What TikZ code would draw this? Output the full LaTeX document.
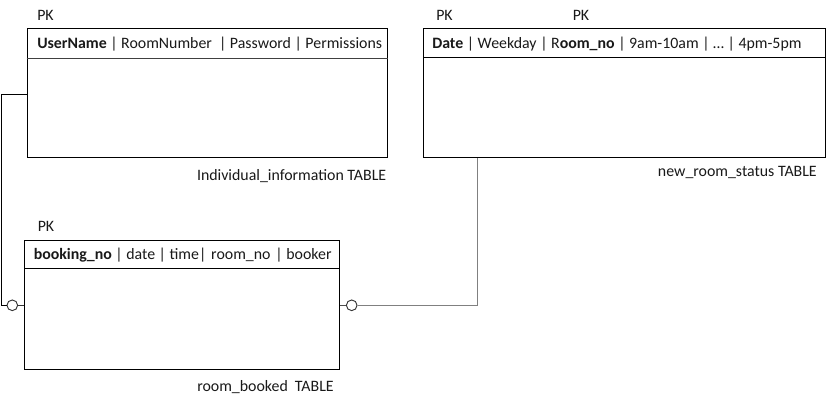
\documentclass[tikz,border=0pt]{standalone}
\usepackage{fontspec}
\setmainfont{Carlito}
\begin{document}
\begin{tikzpicture}[x=0.75pt,y=-0.75pt,
  tbl/.style={draw=black, line width=0.75pt, rectangle, inner sep=0pt, minimum height=96.75pt},
  txt/.style={inner sep=0pt, anchor=west, font=\fontsize{11.9}{14}\selectfont, text=black!90},
  lbl/.style={inner sep=0pt, anchor=east, font=\fontsize{11.9}{14}\selectfont, text=black!90},
  ring/.style={circle, draw=black!80, fill=white, line width=0.7pt, inner sep=0pt, minimum size=8pt},
  conn/.style={line width=0.75pt, draw=black},
  conng/.style={line width=1.1pt, draw=black!50}]
\useasboundingbox (0,0) rectangle (828,406);
% tables
\node (ind) [tbl, minimum width=270pt] at (207,93.5) {};
\node (nrs) [tbl, minimum width=301.5pt] at (624.5,93.5) {};
\node (rb) [tbl, minimum width=236.25pt] at (182,305) {};
% header lines
\draw[line width=0.9pt, black!75] ([yshift=-22.5pt]ind.north west) -- ([yshift=-22.5pt]ind.north east);
\draw[line width=0.75pt] ([yshift=-22.1pt]nrs.north west) -- ([yshift=-22.1pt]nrs.north east);
\draw[line width=0.75pt] ([yshift=-21.5pt]rb.north west) -- ([yshift=-21.5pt]rb.north east);
% header texts
\node (h1) [txt] at (37,44.5) {\textbf{UserName} | RoomNumber\ \ | Password | Permissions};
\node (h2) [txt] at (432,44.5) {\textbf{Date} | Weekday | R\textbf{oom\_no} | 9am-10am | … | 4pm-5pm};
\node (h3) [txt] at (33.5,255.5) {\textbf{booking\_no} | date | time|\ \hspace{1pt}room\_no\ \hspace{1pt}| booker};
% PK labels
\node (pk1) [txt] at (37,15) {PK};
\node (pk2) [txt] at (436,15) {PK};
\node (pk3) [txt] at (572.5,15) {PK};
\node (pk4) [txt] at (37.5,226) {PK};
% table names
\node (l1) [lbl] at (386.5,176) {Individual\_information\ TABLE};
\node (l2) [lbl] at (817,172) {new\_room\_status TABLE};
\node (l3) [lbl] at (334,387) {room\_booked\ \ TABLE};
% rings
\node (c1) [ring] at (12.3,305.3) {};
\node (c2) [ring] at (351.7,305.3) {};
% connectors
\draw[conn] ([yshift=-0.9pt]ind.west) -- ++(-25.5,0) |- (c1.west);
\draw[conn, draw=black!80] (c1.east) -- (c1.east -| rb.west);
\coordinate (n2) at ([xshift=40.9pt]nrs.south west);
\draw[conng] (n2) |- (c2.east);
\draw[conn, draw=black!70] (c2.west) -- (c2.west -| rb.east);
\end{tikzpicture}
\end{document}
